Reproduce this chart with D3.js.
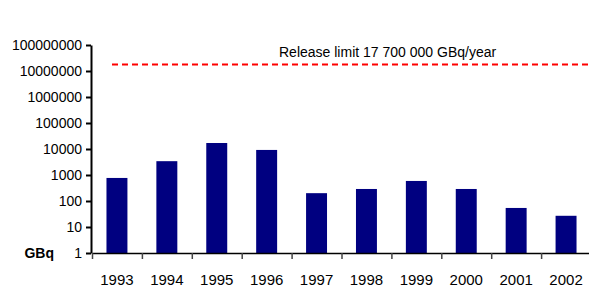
<!DOCTYPE html>
<html>
<head>
<meta charset="utf-8">
<script src="https://cdn.jsdelivr.net/npm/d3@7"></script>
<style>
  body { margin: 0; background: #fff; }
  text { font-family: 'Liberation Sans Narrow', 'Arial Narrow', sans-serif; fill: #000; }
</style>
</head>
<body>
<div class="canvas"></div>
<script>
const years = ['1993', '1994', '1995', '1996', '1997', '1998', '1999', '2000', '2001', '2002'];
const releases = [770, 3400, 17000, 9200, 200, 290, 590, 290, 54, 27];
const yTicks = [1, 10, 100, 1000, 10000, 100000, 1000000, 10000000, 100000000];
const releaseLimit = 17700000;
const limitLabel = 'Release limit 17 700 000 GBq/year';

const svg = d3.select('.canvas')
  .append('svg')
  .attr('width', 589)
  .attr('height', 293);

const x = d3.scaleBand()
  .domain(years)
  .range([92, 591]);

const y = d3.scaleLog()
  .domain([1, 100000000])
  .range([253, 45]);

// bars
svg.append('g')
  .selectAll('rect')
  .data(years)
  .enter()
  .append('rect')
  .attr('x', (d) => x(d) + x.bandwidth() * 0.29)
  .attr('width', x.bandwidth() * 0.42)
  .attr('y', (d, i) => y(releases[i]))
  .attr('height', (d, i) => y(1) - y(releases[i]))
  .attr('fill', '#000080');

// release limit line
svg.append('line')
  .attr('x1', 112)
  .attr('x2', 589)
  .attr('y1', y(releaseLimit))
  .attr('y2', y(releaseLimit))
  .attr('stroke', '#ff0000')
  .attr('stroke-width', 2)
  .attr('stroke-dasharray', '6 4');

svg.append('text')
  .attr('x', 279)
  .attr('y', 57)
  .attr('font-size', 14)
  .text(limitLabel);

// y axis
const yAxis = svg.append('g')
  .attr('transform', 'translate(91,0)')
  .call(d3.axisLeft(y).tickValues(yTicks).tickFormat(d3.format('d')).tickSize(5).tickSizeOuter(0));
yAxis.select('.domain').attr('stroke', '#000').attr('stroke-width', 2);
yAxis.selectAll('.tick line').attr('stroke', '#000').attr('stroke-width', 2);
yAxis.selectAll('.tick text')
  .attr('x', -9)
  .attr('font-size', 14)
  .attr('font-family', null);

// x axis
const xAxis = svg.append('g')
  .attr('transform', 'translate(0,253)')
  .call(d3.axisBottom(x).tickSize(0).tickSizeOuter(0));
xAxis.select('.domain').attr('stroke', '#000').attr('stroke-width', 1.5);
xAxis.selectAll('.tick text')
  .attr('y', 32)
  .attr('dy', null)
  .attr('font-size', 15)
  .attr('font-family', null);

// tick marks between categories
svg.append('g')
  .selectAll('line')
  .data(years)
  .enter()
  .append('line')
  .attr('x1', (d) => x(d) + 0.5)
  .attr('x2', (d) => x(d) + 0.5)
  .attr('y1', 253)
  .attr('y2', 259)
  .attr('stroke', '#444')
  .attr('stroke-width', 1.5);

svg.append('text')
  .attr('x', 54)
  .attr('y', 258)
  .attr('text-anchor', 'end')
  .attr('font-size', 14)
  .attr('font-weight', 'bold')
  .text('GBq');
</script>
</body>
</html>
